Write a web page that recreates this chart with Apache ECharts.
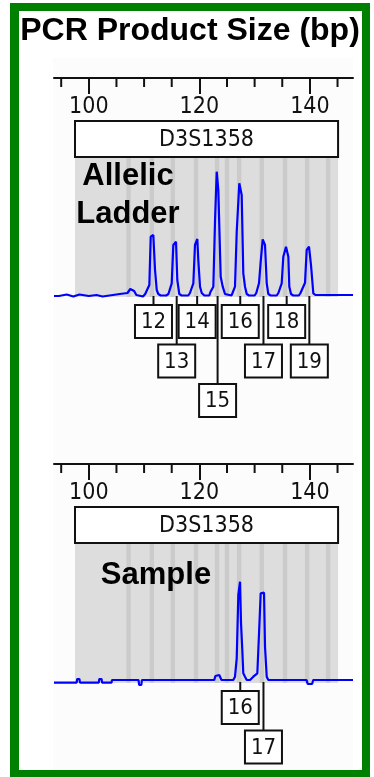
<!DOCTYPE html>
<html><head><meta charset="utf-8">
<script src="https://cdn.jsdelivr.net/npm/echarts@6/dist/echarts.min.js"></script>
<style>html,body{margin:0;padding:0;background:#fff}#c{width:374px;height:777px}</style>
</head><body><div id="c"></div>
<script>
// ---------- data ----------
const TITLE = 'PCR Product Size (bp)';
const MARKER = 'D3S1358';
const panelNames = ['Allelic\nLadder', 'Sample'];
const xRange = [93.7, 147.8];
const majorTicks = [100, 120, 140];
const minorTicks = [95, 105, 110, 115, 125, 130, 135, 145];
const panelRange = [97.5, 145.1];
const binSizes = [107.2, 111.4, 115.2, 119.4, 123.2, 125.0, 127.2, 131.3, 135.5, 139.5, 143.3];

const ladderAlleles = ['12', '13', '14', '15', '16', '17', '18', '19'];
const ladderAlleleSizes = [111.7, 115.9, 119.6, 123.3, 127.4, 131.6, 135.8, 139.9];
const sampleAlleles = ['16', '17'];
const sampleAlleleSizes = [127.4, 131.6];

// trace: [size (bp), RFU]
const ladderTrace = [
  [93.7,-20],[94.6,-20],[94.7,-5],[96.0,-5],[96.1,-25],[97.2,-25],[97.3,-5],[98.3,-5],[98.4,-20],[100.0,-20],
  [100.1,-10],[101.4,-10],[101.5,-25],[102.5,-25],[102.6,-5],[105.6,0],[107.0,10],[107.5,50],[107.8,65],[108.2,30],
  [108.6,-10],[108.8,-25],[109.8,-25],[110.2,0],[110.5,10],
  [110.95,90],[111.2,573],[111.67,590],[111.98,240],[112.29,40],[112.57,0],[113.0,-15],[114.0,-15],[114.4,0],
  [114.69,20],[115.0,107],[115.29,490],[115.78,523],[116.01,140],[116.37,0],[116.8,-15],[118.0,-15],[118.3,10],
  [118.62,20],[118.91,107],[119.21,490],[119.63,550],[119.81,340],[120.12,73],[120.43,10],[120.9,-15],[121.8,-15],[122.0,20],
  [122.24,40],[122.53,73],[122.84,740],[123.14,1223],[123.43,1040],[123.86,173],[124.23,73],[124.64,0],[125.0,-15],[125.8,-15],[126.0,10],
  [126.14,20],[126.45,73],[126.76,623],[127.23,1107],[127.66,990],[127.95,207],[128.26,73],[128.57,0],[129.0,-15],[130.0,-15],[130.3,10],
  [130.49,20],[130.79,107],[131.1,323],[131.46,547],[131.88,490],[132.19,107],[132.48,0],[132.9,-15],[134.0,-15],[134.3,10],
  [134.59,20],[134.9,107],[135.19,373],[135.68,473],[136.1,373],[136.28,73],[136.58,0],[137.0,-15],[138.0,-15],[138.3,10],
  [138.52,20],[139.12,113],[139.42,440],[139.84,473],[140.2,290],[140.62,7],[141.0,-10],[147.8,-10]
];
const sampleTrace = [
  [93.7,-27],[97.8,-27],[97.9,10],[98.3,10],[98.4,-27],[101.8,-27],[101.9,10],[102.3,10],[102.4,-27],[104.1,-27],
  [104.2,0],[109.0,0],[109.1,-50],[109.5,-50],[109.6,0],[122.7,0],[122.9,40],[123.6,50],[124.0,0],
  [126.14,0],[126.45,33],[126.76,217],[127.05,850],[127.36,983],[127.54,567],[127.77,300],[127.95,67],[128.26,33],[128.57,0],
  [129.17,0],[129.76,33],[130.49,67],[130.67,300],[131.10,867],[131.70,873],[131.88,333],[132.19,33],[132.48,0],
  [139.4,0],[139.6,-40],[140.4,-40],[140.6,0],[147.8,0]
];

// ---------- layout / style ----------
const Y_MIN = -60, Y_MAX = 2160;
const GRID_TOPS = [78, 464];
const LADDER_ROWS = [0, 1, 0, 2, 0, 1, 0, 1];
const SAMPLE_ROWS = [0, 1];
const PIX_FONT = '"DejaVu Sans Condensed", "Liberation Sans Narrow", "DejaVu Sans", sans-serif';
const BOLD_FONT = '"Liberation Sans", Arial, sans-serif';

function panelItem(params, api) {
  const p0 = api.coord([api.value(0), 0]);
  const p1 = api.coord([api.value(1), 0]);
  const by = p0[1];
  const grayTop = by - 137, grayBot = by + 3, boxTop = by - 173;
  const children = [{
    type: 'rect', shape: {x: p0[0], y: grayTop, width: p1[0] - p0[0], height: grayBot - grayTop},
    style: {fill: '#dddddd'}
  }];
  binSizes.forEach(b => {
    const c = api.coord([b, 0])[0];
    children.push({type: 'rect', shape: {x: c - 2.2, y: grayTop, width: 4.4, height: grayBot - grayTop},
      style: {fill: '#cbcbcb'}});
  });
  children.push({type: 'rect', shape: {x: p0[0], y: boxTop, width: p1[0] - p0[0], height: grayTop - boxTop},
    style: {fill: '#fff', stroke: '#111', lineWidth: 2}});
  children.push({type: 'text', style: {text: MARKER, x: (p0[0] + p1[0]) / 2, y: (boxTop + grayTop) / 2 + 1,
    align: 'center', verticalAlign: 'middle', font: '23px ' + PIX_FONT, fill: '#111'}});
  return {type: 'group', children};
}

function rulerItem(params, api) {
  const p = api.coord([api.value(0), Y_MAX]);
  return {type: 'line', shape: {x1: p[0], y1: p[1], x2: p[0], y2: p[1] + 9},
    style: {stroke: '#111', lineWidth: 2}};
}

function makeLabelItem(names) {
  return function (params, api) {
    const base = api.coord([api.value(0), 0]);
    const row = api.value(1);
    const cx = base[0], by = base[1];
    const top = by + 11 + row * 39.5;
    const w = 37, h = 33;
    return {type: 'group', children: [
      {type: 'line', shape: {x1: cx, y1: by + 2, x2: cx, y2: top}, style: {stroke: '#111', lineWidth: 2}},
      {type: 'rect', shape: {x: cx - w / 2, y: top, width: w, height: h}, style: {fill: '#fff', stroke: '#111', lineWidth: 2}},
      {type: 'text', style: {text: names[params.dataIndex], x: cx, y: top + h / 2 + 1, align: 'center',
        verticalAlign: 'middle', font: '22px ' + PIX_FONT, fill: '#111'}}
    ]};
  };
}

const grids = GRID_TOPS.map(t => ({left: 54, top: t, width: 299, height: 222}));
const xAxes = GRID_TOPS.map((t, i) => ({
  type: 'value', gridIndex: i, position: 'top', min: xRange[0], max: xRange[1],
  axisLine: {show: true, onZero: false, lineStyle: {color: '#111', width: 2}},
  axisTick: {show: true, inside: true, length: 16, customValues: majorTicks, lineStyle: {color: '#111', width: 2}},
  axisLabel: {show: true, inside: true, margin: 18, customValues: majorTicks,
    fontFamily: PIX_FONT, fontSize: 23, color: '#111'},
  splitLine: {show: false}, minorTick: {show: false}
}));
const yAxes = GRID_TOPS.map((t, i) => ({type: 'value', gridIndex: i, min: Y_MIN, max: Y_MAX, show: false,
  splitLine: {show: false}}));

const series = [];
[0, 1].forEach(i => {
  series.push({type: 'custom', xAxisIndex: i, yAxisIndex: i, z: 1, clip: false, silent: true,
    data: [[panelRange[0], panelRange[1]]], renderItem: panelItem});
  series.push({type: 'custom', xAxisIndex: i, yAxisIndex: i, z: 3, clip: false, silent: true,
    data: minorTicks.map(v => [v]), renderItem: rulerItem});
});
series.push({type: 'line', xAxisIndex: 0, yAxisIndex: 0, z: 4, data: ladderTrace, showSymbol: false,
  clip: false, lineStyle: {color: '#0000ff', width: 2.2}, animation: false});
series.push({type: 'line', xAxisIndex: 1, yAxisIndex: 1, z: 4, data: sampleTrace, showSymbol: false,
  clip: false, lineStyle: {color: '#0000ff', width: 2.2}, animation: false});
series.push({type: 'custom', xAxisIndex: 0, yAxisIndex: 0, z: 5, clip: false,
  data: ladderAlleleSizes.map((s, k) => [s, LADDER_ROWS[k]]), renderItem: makeLabelItem(ladderAlleles)});
series.push({type: 'custom', xAxisIndex: 1, yAxisIndex: 1, z: 5, clip: false,
  data: sampleAlleleSizes.map((s, k) => [s, SAMPLE_ROWS[k]]), renderItem: makeLabelItem(sampleAlleles)});

const chart = echarts.init(document.getElementById('c'), null, {renderer: 'canvas'});
chart.setOption({
  animation: false,
  backgroundColor: '#ffffff',
  grid: grids, xAxis: xAxes, yAxis: yAxes, series,
  graphic: {elements: [
    {type: 'rect', z: -10, silent: true, shape: {x: 10, y: 3, width: 360, height: 780}, style: {fill: '#008000'}},
    {type: 'rect', z: -9, silent: true, shape: {x: 19, y: 11, width: 343, height: 759}, style: {fill: '#ffffff'}},
    {type: 'rect', z: -8, silent: true, shape: {x: 53, y: 58, width: 300, height: 712}, style: {fill: '#fcfcfc'}},
    {type: 'text', z: 100, silent: true, style: {text: TITLE, x: 190, y: 31, align: 'center', verticalAlign: 'middle',
      font: 'bold 32px ' + BOLD_FONT, fill: '#000'}},
    {type: 'text', z: 100, silent: true, style: {text: panelNames[0], x: 128, y: 157, align: 'center', verticalAlign: 'top',
      lineHeight: 38, font: 'bold 31px ' + BOLD_FONT, fill: '#000'}},
    {type: 'text', z: 100, silent: true, style: {text: panelNames[1], x: 156, y: 575, align: 'center', verticalAlign: 'middle',
      font: 'bold 31px ' + BOLD_FONT, fill: '#000'}}
  ]}
});
</script></body></html>
